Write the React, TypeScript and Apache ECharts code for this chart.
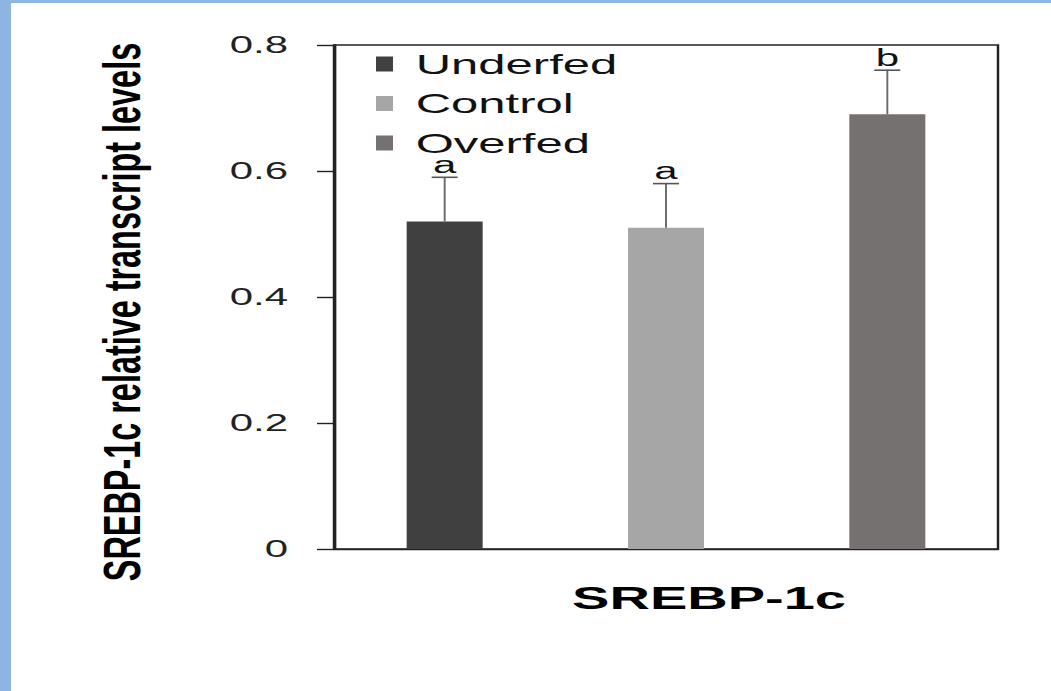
import React, { useEffect, useRef } from "react";
import * as echarts from "echarts";

// ---- data ----
const categories = ["Underfed", "Control", "Overfed"];
const means = [0.52, 0.51, 0.69];
const errorTops = [0.59, 0.58, 0.76];
const letters = ["a", "a", "b"];
const yTickLabels = ["0", "0.2", "0.4", "0.6", "0.8"];
const barColors = ["#404040", "#A6A6A6", "#767171"];
const xTitle = "SREBP-1c";
const yTitle = "SREBP-1c relative transcript levels";

// the reference picture is stretched horizontally
const S = 1.75;
const FONT = '"Liberation Sans", Arial, sans-serif';

export default function App() {
  const ref = useRef<HTMLDivElement>(null);

  useEffect(() => {
    if (!ref.current) return;
    const chart = echarts.init(ref.current, undefined, { renderer: "svg" });

    const barSeries = categories.map((name, i) => ({
      type: "bar",
      name,
      data: categories.map((_, j) => (j === i ? means[i] : "-")),
      barWidth: 76 / S,
      barGap: "-100%",
      itemStyle: { color: barColors[i] },
      silent: true,
    }));

    const errSeries = {
      type: "custom",
      silent: true,
      z: 10,
      data: categories.map((_, i) => [i, means[i], errorTops[i]]),
      renderItem: (params: any, api: any) => {
        const i = api.value(0);
        const b = api.coord([i, api.value(1)]);
        const t = api.coord([i, api.value(2)]);
        const half = 13 / S;
        return {
          type: "group",
          children: [
            {
              type: "line",
              shape: { x1: b[0], y1: b[1], x2: t[0], y2: t[1] },
              style: { stroke: "#6a6a6a", lineWidth: 1.1 },
            },
            {
              type: "line",
              shape: { x1: t[0] - half, y1: t[1], x2: t[0] + half, y2: t[1] },
              style: { stroke: "#555555", lineWidth: 1.6 },
            },
            {
              type: "text",
              x: t[0],
              y: t[1] - 5,
              style: {
                text: letters[params.dataIndex],
                font: `24px ${FONT}`,
                lineHeight: 16,
                fill: "#111",
                align: "center",
                verticalAlign: "bottom",
                textAlign: "center",
                textVerticalAlign: "bottom",
              },
            },
          ],
        };
      },
    };

    const option: any = {
      animation: false,
      backgroundColor: "transparent",
      grid: {
        left: 334 / S,
        width: 664 / S,
        top: 45,
        height: 504,
        containLabel: false,
        outerBoundsMode: "none",
        show: true,
        borderColor: "#222",
        borderWidth: 1.4,
        backgroundColor: "transparent",
      },
      legend: {
        data: categories,
        orient: "vertical",
        left: 376 / S,
        top: 50,
        padding: 0,
        itemGap: 11.5,
        icon: "rect",
        itemWidth: 17 / S,
        itemHeight: 15,
        selectedMode: false,
        textStyle: {
          fontFamily: FONT,
          fontSize: 28,
          color: "#111",
          padding: [0, 0, 0, 8],
        },
      },
      xAxis: {
        type: "category",
        data: categories,
        axisLabel: { show: false },
        axisTick: { show: false },
        axisLine: { show: true, lineStyle: { color: "#222", width: 1.4 } },
        splitLine: { show: false },
      },
      yAxis: {
        type: "value",
        min: 0,
        max: 0.8,
        interval: 0.2,
        axisLine: { show: true, lineStyle: { color: "#222", width: 1.4 } },
        axisTick: {
          show: true,
          inside: false,
          length: 17 / S,
          lineStyle: { color: "#222", width: 1.4 },
        },
        splitLine: { show: false },
        axisLabel: {
          margin: 46 / S,
          fontFamily: FONT,
          fontSize: 24,
          color: "#222",
          formatter: (v: number) => yTickLabels[Math.round(v / 0.2)] ?? "",
        },
      },
      graphic: [
        {
          type: "text",
          x: 709 / S,
          y: 598,
          style: {
            text: xTitle,
            font: `bold 32px ${FONT}`,
            fill: "#000",
            align: "center",
            verticalAlign: "middle",
            textAlign: "center",
            textVerticalAlign: "middle",
          },
        },
        {
          type: "text",
          x: 122 / S,
          y: 312,
          rotation: Math.PI / 2,
          scaleX: 1.08,
          style: {
            text: yTitle,
            font: `bold 30px ${FONT}`,
            fill: "#000",
            align: "center",
            verticalAlign: "middle",
            textAlign: "center",
            textVerticalAlign: "middle",
          },
        },
      ],
      series: [...barSeries, errSeries],
    };

    chart.setOption(option);
    return () => chart.dispose();
  }, []);

  return (
    <div
      style={{
        position: "fixed",
        left: 0,
        top: 0,
        width: 1051,
        height: 691,
        background: "#8DB4E2",
        overflow: "hidden",
      }}
    >
      <div
        style={{
          position: "absolute",
          left: 11,
          top: 3,
          right: 0,
          bottom: 0,
          background: "#ffffff",
        }}
      />
      <div
        ref={ref}
        style={{
          position: "absolute",
          left: 0,
          top: 0,
          width: 1051 / S,
          height: 691,
          transform: `scaleX(${S})`,
          transformOrigin: "0 0",
        }}
      />
    </div>
  );
}
